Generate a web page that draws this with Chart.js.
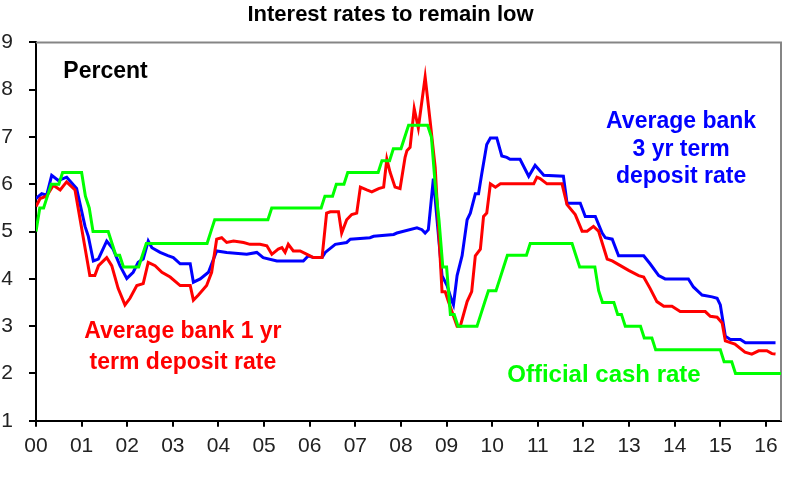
<!DOCTYPE html>
<html>
<head>
<meta charset="utf-8">
<title>Interest rates to remain low</title>
<script src="https://cdn.jsdelivr.net/npm/chart.js@4.4.1/dist/chart.umd.min.js"></script>
<style>
  html, body { margin: 0; padding: 0; background: #fff; }
</style>
</head>
<body>
<canvas id="chart" width="800" height="486"></canvas>
<script>
// x values are years since Jan 2000 (0 = 2000, 16 = 2016)
const yearLabels = ['00', '01', '02', '03', '04', '05', '06', '07', '08', '09', '10', '11', '12', '13', '14', '15', '16'];
const yTicks = [1, 2, 3, 4, 5, 6, 7, 8, 9];

// Official cash rate
const cashDates = [0, 0.083, 0.167, 0.25, 0.333, 0.5, 0.583, 1.0, 1.083, 1.167, 1.25, 1.583, 1.667, 1.75, 1.833, 1.917,
  2.25, 2.333, 2.417, 3.75, 3.833, 3.917, 5.083, 5.167, 6.25, 6.333, 6.5, 6.583, 6.75, 6.833, 7.5, 7.583, 7.75, 7.833,
  8.0, 8.083, 8.167, 8.583, 8.667, 8.75, 8.833, 8.917, 9.0, 9.083, 9.167, 9.25, 9.667, 9.75, 9.833, 9.917, 10.083,
  10.167, 10.25, 10.333, 10.75, 10.833, 11.75, 11.833, 11.917, 12.25, 12.333, 12.417, 12.667, 12.75, 12.833, 12.917,
  13.25, 13.333, 13.5, 13.583, 15.0, 15.083, 15.25, 15.333, 16.33];
const cashRates = [5.0, 5.5, 5.5, 5.75, 6.0, 6.0, 6.25, 6.25, 5.75, 5.5, 5.0, 5.0, 4.75, 4.5, 4.5, 4.25,
  4.25, 4.5, 4.75, 4.75, 5.0, 5.25, 5.25, 5.5, 5.5, 5.75, 5.75, 6.0, 6.0, 6.25, 6.25, 6.5, 6.5, 6.75,
  6.75, 7.0, 7.25, 7.25, 7.0, 6.0, 5.25, 4.25, 4.25, 3.25, 3.25, 3.0, 3.0, 3.25, 3.5, 3.75, 3.75,
  4.0, 4.25, 4.5, 4.5, 4.75, 4.75, 4.5, 4.25, 4.25, 3.75, 3.5, 3.5, 3.25, 3.25, 3.0,
  3.0, 2.75, 2.75, 2.5, 2.5, 2.25, 2.25, 2.0, 2.0];

// Average bank 1 yr term deposit rate
const oneYrDates = [0, 0.09, 0.235, 0.38, 0.53, 0.67, 0.855, 1.18, 1.29, 1.37, 1.55, 1.66, 1.8, 1.95, 2.06, 2.21, 2.35,
  2.46, 2.61, 2.76, 2.94, 3.16, 3.38, 3.45, 3.56, 3.74, 3.85, 3.96, 4.07, 4.18, 4.33, 4.55, 4.69, 4.91, 5.06, 5.17,
  5.31, 5.39, 5.46, 5.53, 5.64, 5.79, 5.94, 6.08, 6.27, 6.37, 6.45, 6.63, 6.7, 6.81, 6.92, 7.03, 7.11, 7.25, 7.36,
  7.51, 7.62, 7.69, 7.76, 7.87, 7.98, 8.09, 8.13, 8.2, 8.29, 8.38, 8.53, 8.64, 8.75, 8.9, 8.97, 9.04, 9.23, 9.3,
  9.45, 9.55, 9.63, 9.74, 9.81, 9.88, 9.96, 10.07, 10.18, 10.91, 10.98, 11.05, 11.2, 11.53, 11.64, 11.82, 11.97,
  12.08, 12.22, 12.33, 12.52, 12.63, 12.81, 12.99, 13.21, 13.32, 13.46, 13.61, 13.76, 13.94, 14.12, 14.67, 14.78,
  14.93, 15.04, 15.11, 15.32, 15.54, 15.69, 15.84, 16.02, 16.13, 16.21];
const oneYrRates = [5.53, 5.7, 5.75, 5.98, 5.88, 6.05, 5.88, 4.07, 4.07, 4.28, 4.45, 4.28, 3.8, 3.45, 3.59, 3.86, 3.9,
  4.35, 4.28, 4.14, 4.04, 3.86, 3.86, 3.55, 3.66, 3.86, 4.14, 4.84, 4.87, 4.77, 4.8, 4.77, 4.73, 4.73, 4.7, 4.52,
  4.63, 4.66, 4.56, 4.73, 4.59, 4.59, 4.52, 4.45, 4.45, 5.39, 5.42, 5.42, 4.97, 5.25, 5.36, 5.39, 5.94, 5.88, 5.84,
  5.91, 5.94, 6.53, 6.26, 5.94, 5.91, 6.57, 6.71, 6.78, 7.6, 7.19, 8.27, 7.33, 6.36, 3.73, 3.73, 3.52, 3.0, 3.0,
  3.52, 3.73, 4.49, 4.63, 5.32, 5.39, 6.01, 5.94, 6.01, 6.01, 6.15, 6.12, 6.01, 6.01, 5.57, 5.36, 5.01,
  5.01, 5.11, 5.01, 4.42, 4.38, 4.28, 4.18, 4.07, 4.04, 3.8, 3.52, 3.42, 3.42, 3.31, 3.31, 3.21,
  3.19, 3.07, 2.69, 2.62, 2.45, 2.41, 2.48, 2.48, 2.42, 2.41];

// Average bank 3 yr term deposit rate
const threeYrDates = [0, 0.125, 0.235, 0.344, 0.49, 0.673, 0.89, 1.075, 1.147, 1.257, 1.366, 1.55, 1.69, 1.84, 1.99,
  2.13, 2.24, 2.35, 2.46, 2.54, 2.72, 2.89, 3.01, 3.16, 3.38, 3.45, 3.6, 3.78, 3.96, 4.18, 4.62, 4.84, 4.98, 5.28,
  5.86, 5.97, 6.08, 6.27, 6.34, 6.56, 6.81, 6.89, 7.32, 7.4, 7.84, 7.91, 8.35, 8.46, 8.53, 8.6, 8.71, 8.9, 9.01,
  9.12, 9.15, 9.23, 9.34, 9.45, 9.52, 9.63, 9.7, 9.77, 9.88, 9.96, 10.1, 10.21, 10.32, 10.39, 10.61, 10.8, 10.94,
  11.13, 11.56, 11.64, 11.93, 12.04, 12.26, 12.41, 12.48, 12.63, 12.77, 13.32, 13.46, 13.65, 13.79, 14.3, 14.41,
  14.6, 14.82, 14.93, 15.0, 15.11, 15.22, 15.44, 15.55, 16.21];
const threeYrRates = [5.7, 5.8, 5.77, 6.19, 6.08, 6.15, 5.91, 5.11, 4.9, 4.38, 4.42, 4.8, 4.63, 4.28, 4.01,
  4.14, 4.35, 4.42, 4.8, 4.66, 4.56, 4.49, 4.45, 4.32, 4.32, 3.93, 4.0, 4.14, 4.59, 4.56, 4.52, 4.56, 4.45, 4.38,
  4.38, 4.49, 4.45, 4.45, 4.56, 4.73, 4.77, 4.84, 4.87, 4.9, 4.94, 4.97, 5.08, 5.04, 4.97, 5.04, 6.12, 4.07, 3.86,
  3.52, 3.45, 4.07, 4.49, 5.25, 5.39, 5.8, 5.8, 6.22, 6.84, 6.98, 6.98, 6.6, 6.57, 6.53, 6.53, 6.17, 6.4,
  6.19, 6.17, 5.6, 5.6, 5.32, 5.32, 4.97, 4.87, 4.84, 4.49, 4.49, 4.32, 4.07, 4.0, 4.0, 3.83,
  3.66, 3.62, 3.59, 3.45, 2.79, 2.72, 2.72, 2.65, 2.65];

function toPoints(xs, ys) {
  return xs.map((x, i) => ({ x: x, y: ys[i] }));
}

const FONT = "'Liberation Sans', Arial, sans-serif";

// text labels placed in data units
const notes = [
  { lines: ['Percent'], x: 0.6, y: 8.39, color: '#000000', align: 'left', size: 23, gap: 0 },
  { lines: ['Average bank 1 yr', 'term deposit rate'], x: 3.22, y: 2.89, color: '#ff0000', align: 'center', size: 23, gap: 31 },
  { lines: ['Average bank', '3 yr term', 'deposit rate'], x: 14.14, y: 7.32, color: '#0000ff', align: 'center', size: 23, gap: 27.5 },
  { lines: ['Official cash rate'], x: 10.33, y: 1.97, color: '#00ff00', align: 'left', size: 24, gap: 0 }
];

const notesPlugin = {
  id: 'notes',
  afterDatasetsDraw(chart) {
    const ctx = chart.ctx;
    const xs = chart.scales.x, ys = chart.scales.y;
    ctx.save();
    notes.forEach(n => {
      ctx.font = 'bold ' + n.size + 'px ' + FONT;
      ctx.fillStyle = n.color;
      ctx.textAlign = n.align;
      ctx.textBaseline = 'middle';
      const px = xs.getPixelForValue(n.x);
      const py = ys.getPixelForValue(n.y);
      n.lines.forEach((line, i) => ctx.fillText(line, px, py + i * n.gap));
    });
    ctx.restore();
  }
};

// grey box line on top and right of the plot
const framePlugin = {
  id: 'frame',
  beforeDatasetsDraw(chart) {
    const { ctx, chartArea: a } = chart;
    ctx.save();
    ctx.strokeStyle = '#858585';
    ctx.lineWidth = 2;
    ctx.beginPath();
    ctx.moveTo(a.left, a.top);
    ctx.lineTo(a.right, a.top);
    ctx.lineTo(a.right, a.bottom);
    ctx.stroke();
    ctx.restore();
  }
};

new Chart(document.getElementById('chart'), {
  type: 'line',
  data: {
    datasets: [
      { label: 'Official cash rate', data: toPoints(cashDates, cashRates), borderColor: '#00ff00' },
      { label: 'Average bank 1 yr term deposit rate', data: toPoints(oneYrDates, oneYrRates), borderColor: '#ff0000' },
      { label: 'Average bank 3 yr term deposit rate', data: toPoints(threeYrDates, threeYrRates), borderColor: '#0000ff' }
    ]
  },
  options: {
    responsive: false,
    animation: false,
    devicePixelRatio: 1,
    layout: { padding: { left: 0, right: 19, top: 0, bottom: 20 } },
    elements: {
      line: { borderWidth: 3, tension: 0, fill: false },
      point: { radius: 0 }
    },
    plugins: {
      legend: { display: false },
      tooltip: { enabled: false },
      title: {
        display: true,
        text: 'Interest rates to remain low',
        color: '#000000',
        font: { family: FONT, size: 22, weight: 'bold' },
        padding: { top: 2, bottom: 14 }
      }
    },
    scales: {
      x: {
        type: 'linear',
        min: 0,
        max: 16.33,
        border: { display: true, color: '#000000', width: 2 },
        grid: { drawOnChartArea: false, drawTicks: true, tickLength: 6, color: '#000000', lineWidth: 2 },
        ticks: {
          stepSize: 1,
          includeBounds: false,
          autoSkip: false,
          maxRotation: 0,
          padding: 7,
          color: '#222222',
          font: { family: FONT, size: 21 },
          callback: v => yearLabels[Math.round(v)]
        }
      },
      y: {
        min: 1,
        max: 9,
        afterFit: s => { s.width = 36; },
        afterBuildTicks: s => { s.ticks = yTicks.map(v => ({ value: v })); },
        border: { display: true, color: '#000000', width: 2 },
        grid: { drawOnChartArea: false, drawTicks: true, tickLength: 7, color: '#000000', lineWidth: 2 },
        ticks: {
          padding: 16,
          color: '#222222',
          font: { family: FONT, size: 21 }
        }
      }
    }
  },
  plugins: [framePlugin, notesPlugin]
});
</script>
</body>
</html>
